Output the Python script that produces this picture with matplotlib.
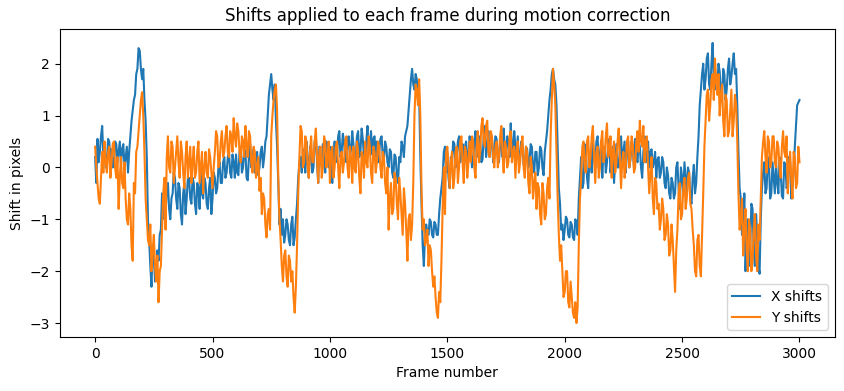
import numpy as np
import matplotlib
matplotlib.use("Agg")
import matplotlib.pyplot as plt

#-frame numbers: read every 10 frames (0..3000) plus in-between reads (5..2995)
frames = np.arange(0, 3001, 5)

#-shifts at frames 0,10,...,3000 (one row per 100 frames)
x_shifts = [
    0.2, 0.55, 0.3, 0.8, 0.45, 0.1, 0.5, 0.35, 0.05, 0.45,
    0.3, 0.05, 0.45, 0.2, -0.1, 0.6, 1.1, 1.4, 1.9, 2.25,
    1.7, 1.3, 0.2, -1.4, -2.3, -1.7, -2.1, -1.8, -1.2, -0.6,
    -0.9, -0.3, -1.0, -0.5, -0.2, -0.8, -0.4, -1.1, -0.3, -0.6,
    -0.2, -0.7, -0.3, -0.9, -0.4, -0.1, -0.6, -0.3, -0.8, -0.2,
    -0.6, -0.2, -0.4, 0.1, -0.3, 0.2, -0.1, 0.3, -0.2, 0.1,
    0.25, -0.15, 0.4, 0.0, 0.3, -0.25, 0.45, 0.1, -0.1, 0.3,
    0.0, 0.4, 0.2, 0.6, 1.4, 1.8, 1.3, 0.9, -0.3, -0.8,
    -1.0, -1.3, -1.1, -1.5, -0.95, -1.35, -0.7, 0.1, -0.1, 0.2,
    0.5, -0.2, 0.3, 0.0, 0.6, -0.3, 0.2, 0.45, -0.1, 0.3,
    0.4, -0.3, 0.5, 0.2, 0.7, 0.3, 0.5, 0.1, 0.6, 0.35,
    0.45, 0.2, 0.7, 0.3, 0.55, 0.1, 0.8, 0.4, 0.25, 0.6,
    0.5, 0.3, 0.6, 0.15, 0.4, 0.0, 0.3, -0.2, 0.2, -0.3,
    0.1, 0.4, 0.6, 0.8, 1.4, 1.9, 1.5, 1.7, 1.4, -0.7,
    -1.9, -1.1, -1.3, -1.05, -1.35, -1.1, -1.3, -0.6, -0.2, 0.4,
    0.3, -0.4, 0.1, 0.45, 0.2, 0.6, 0.3, 0.05, 0.5, 0.25,
    0.4, 0.1, 0.7, 0.35, 0.5, 0.15, 0.8, 0.4, 0.2, 0.6,
    0.3, 0.55, 0.1, 0.45, 0.75, 0.2, 0.5, 0.85, 0.3, 0.4,
    0.6, 0.2, 0.45, 0.0, 0.35, 0.1, 0.4, -0.1, 0.3, 0.0,
    0.35, -0.15, 0.5, 1.0, 1.5, 1.9, 1.6, 0.4, -0.7, -1.1,
    -1.2, -1.0, -1.35, -1.1, -1.4, -1.05, -0.6, 0.2, -0.3, 0.4,
    -0.4, 0.3, 0.5, 0.0, 0.6, 0.2, -0.2, 0.4, 0.1, 0.55,
    0.2, -0.3, 0.45, 0.0, 0.6, 0.3, -0.1, 0.5, 0.15, 0.35,
    0.55, 0.1, 0.4, -0.2, 0.6, 0.25, 0.0, 0.35, 0.1, -0.2,
    0.2, -0.1, 0.1, -0.4, -0.15, -0.6, -0.3, -0.5, 0.1, -0.8,
    -0.2, 0.1, -0.5, -0.1, -0.7, 0.05, -0.3, 0.6, 1.5, 2.0,
    1.7, 2.2, 1.5, 2.4, 1.9, 1.6, 1.85, 1.35, 1.8, 1.5,
    2.1, 1.75, 2.2, 1.9, 0.3, -0.6, -1.2, -2.0, -1.0, -1.6,
    -0.8, -1.9, -1.3, -2.05, -0.4, 0.1, -0.4, 0.05, -0.5, -0.2,
    0.1, -0.5, -0.1, -0.6, 0.05, -0.3, 0.1, -0.4, 0.4, 1.2,
    1.3,
]

#-in-between reads at frames 5,15,...,2995
x_mid = [
    -0.3, 0.1, 0.6, 0.2, 0.0, 0.55, 0.15, 0.0, 0.5, 0.1,
    0.5, 0.35, 0.0, 0.4, 0.3, 0.9, 1.3, 1.8, 2.3, 1.9,
    1.9, 0.9, -1.0, -1.9, -1.5, -2.2, -1.6, -1.3, -0.5, -1.0,
    -0.4, -0.8, -0.6, -0.1, -0.6, -0.3, -0.9, -0.5, -0.9, -0.2,
    -0.6, -0.2, -0.7, -0.3, -0.8, -0.5, -0.2, -0.7, -0.4, -0.9,
    -0.1, -0.5, 0.0, -0.3, 0.1, -0.2, 0.2, -0.1, 0.25, -0.2,
    -0.1, 0.3, -0.1, 0.35, -0.2, 0.2, 0.0, 0.35, 0.25, -0.15,
    0.3, 0.0, 0.5, 1.0, 1.6, 1.5, 1.6, 0.4, -1.1, -1.3,
    -1.45, -1.0, -1.4, -1.1, -1.5, -1.0, -0.2, 0.2, 0.35, -0.1,
    0.1, 0.4, -0.1, 0.5, 0.1, 0.4, 0.0, 0.2, 0.5, 0.0,
    0.0, 0.2, 0.1, 0.6, 0.2, 0.65, 0.2, 0.55, 0.2, 0.7,
    0.1, 0.6, 0.2, 0.75, 0.2, 0.5, 0.3, 0.7, 0.55, 0.2,
    0.1, 0.55, 0.2, 0.5, 0.1, 0.35, -0.1, 0.25, -0.15, 0.2,
    0.5, 0.2, 0.7, 1.1, 1.7, 1.6, 1.8, 1.3, 0.2, -1.5,
    -1.3, -1.25, -1.0, -1.3, -1.05, -1.3, -0.9, -0.4, 0.3, -0.1,
    -0.2, 0.2, 0.5, 0.0, 0.5, 0.1, 0.45, 0.4, 0.0, 0.6,
    0.0, 0.5, 0.2, 0.6, 0.1, 0.6, 0.2, 0.7, 0.5, 0.1,
    0.6, 0.2, 0.5, 0.2, 0.35, 0.6, 0.2, 0.4, 0.7, 0.2,
    0.1, 0.5, 0.05, 0.4, 0.0, 0.45, 0.0, 0.3, -0.15, 0.4,
    0.0, 0.3, 0.7, 1.3, 1.8, 1.7, 1.2, -0.4, -1.2, -1.4,
    -0.95, -1.3, -1.05, -1.35, -1.0, -1.3, -0.2, -0.4, 0.45, -0.2,
    0.1, -0.1, 0.2, 0.5, 0.0, 0.5, 0.3, -0.1, 0.45, -0.1,
    0.4, 0.1, 0.0, 0.35, 0.1, 0.5, 0.3, 0.0, 0.5, 0.0,
    0.2, 0.5, 0.0, 0.3, 0.1, 0.5, 0.3, 0.0, 0.3, 0.15,
    -0.2, 0.2, -0.3, 0.0, -0.5, -0.2, -0.6, 0.0, -0.4, 0.0,
    -0.5, -0.2, 0.0, -0.6, -0.2, -0.5, 0.2, 1.2, 1.8, 1.5,
    2.1, 1.6, 2.0, 1.7, 1.5, 2.0, 1.4, 1.9, 1.3, 1.9,
    1.6, 2.0, 1.8, 1.2, -0.4, -1.3, -0.5, -1.4, -1.9, -0.7,
    -1.6, -0.9, -1.9, -1.0, -0.1, -0.5, 0.2, -0.6, 0.1, -0.5,
    -0.3, 0.2, -0.55, 0.1, -0.4, 0.2, -0.6, -0.1, 0.8, 1.25,
]

y_shifts = [
    0.4, -0.3, -0.7, 0.3, 0.5, -0.1, 0.4, 0.1, 0.5, -0.2,
    -0.8, 0.2, -0.4, -0.6, -1.1, -0.8, -1.8, -0.5, 0.4, 1.0,
    1.45, 0.3, -1.0, -1.5, -2.0, -1.3, -2.2, -2.6, -1.9, -0.5,
    -1.2, 0.6, -0.1, 0.4, 0.0, 0.6, -0.2, 0.3, -0.4, 0.5,
    0.1, -0.3, 0.4, -0.1, 0.5, 0.0, -0.5, 0.3, -0.2, 0.2,
    -0.4, 0.3, 0.6, 0.1, 0.7, 0.3, 0.8, 0.2, 0.6, 0.95,
    0.4, 0.7, 0.1, 0.5, 0.8, 0.2, 0.6, -0.1, 0.3, 0.0,
    -0.45, -0.9, -0.6, -1.35, -0.8, 0.6, 1.3, 1.6, -0.2, -1.4,
    -2.2, -1.6, -2.3, -1.8, -2.0, -2.8, -1.5, 0.2, 0.7, 0.1,
    0.5, -0.2, 0.6, 0.1, 0.75, -0.3, 0.4, 0.0, 0.5, 0.2,
    -0.3, 0.4, 0.0, 0.5, -0.4, 0.3, 0.1, 0.6, -0.2, 0.2,
    0.4, -0.1, 0.3, -0.5, 0.2, 0.5, 0.0, 0.4, -0.3, 0.3,
    0.1, 0.4, -0.2, 0.2, -0.5, -1.2, -0.3, -0.8, -0.2, -1.0,
    -0.5, -1.3, -0.7, -1.8, -0.9, -1.1, 1.0, 1.5, 1.7, -0.4,
    -1.0, -1.4, -1.9, -1.6, -2.3, -2.5, -2.9, -2.6, -0.8, -0.9,
    0.4, -0.4, 0.3, -0.2, 0.4, 0.0, 0.6, -0.3, 0.3, 0.1,
    0.1, 0.5, -0.2, 0.7, 0.3, 0.95, 0.4, 0.9, 0.2, 0.6,
    0.0, 0.5, 0.2, 0.8, -0.1, 0.4, 0.1, 0.7, 0.3, -0.2,
    0.5, 0.1, 0.6, -0.2, 0.3, -0.5, 0.0, -0.3, -0.8, -0.4,
    -1.1, -0.5, -0.9, -0.2, 0.6, 1.9, 1.2, -0.6, -1.8, -2.0,
    -2.4, -2.0, -2.7, -2.5, -2.9, -3.0, -1.5, -0.2, 0.5, -0.1,
    0.6, 0.2, 0.8, -0.3, 0.4, 0.0, 0.7, 0.2, 0.85, 0.3,
    -0.2, 0.5, 0.1, 0.75, -0.4, 0.3, 0.0, 0.6, 0.2, 0.45,
    0.0, 0.7, 0.9, 0.4, 0.1, 0.6, -0.5, 0.2, -0.9, -0.3,
    -0.7, -1.0, -0.8, -1.3, -1.1, -1.6, -1.4, -2.4, -1.2, -0.3,
    -0.9, -0.2, -0.6, -0.1, -0.8, -1.5, -2.1, -1.3, -2.1, -0.5,
    0.9, 1.5, 1.2, 1.8, 2.1, 1.4, 1.0, 1.6, 0.6, 1.3,
    0.7, 1.5, 0.9, 1.2, -0.5, -1.0, -1.7, -0.8, -2.0, -1.2,
    -1.8, -0.9, -2.0, -1.4, 0.2, 0.7, -0.1, 0.5, 0.1, 0.6,
    0.0, 0.4, -0.2, 0.7, 0.2, -0.5, 0.3, -0.6, 0.2, -0.3,
    0.1,
]

y_mid = [
    0.0, -0.6, -0.2, -0.1, 0.1, 0.3, -0.2, 0.45, 0.0, 0.2,
    -0.2, -0.3, 0.1, -1.0, -0.5, -1.5, -0.3, 0.3, 0.7, 1.3,
    1.0, -0.6, -1.4, -1.1, -1.6, -1.9, -1.7, -2.0, -1.2, -0.2,
    0.2, 0.0, 0.5, -0.3, 0.3, 0.1, 0.5, -0.1, 0.2, -0.2,
    0.4, 0.1, -0.2, 0.3, -0.3, 0.3, 0.0, -0.1, 0.35, -0.1,
    0.0, 0.7, 0.0, 0.5, 0.2, 0.6, 0.3, 0.7, 0.3, 0.6,
    0.85, 0.3, 0.6, 0.2, 0.4, 0.7, 0.1, 0.4, -0.2, 0.2,
    -0.2, -0.5, -1.1, -0.9, -1.2, 1.0, 1.5, 1.1, -1.0, -1.9,
    -1.7, -2.1, -1.7, -2.2, -2.5, -2.3, -0.5, 0.8, 0.0, 0.6,
    0.0, 0.3, 0.1, 0.5, 0.2, 0.3, -0.2, 0.6, 0.0, 0.5,
    0.3, -0.2, 0.4, 0.0, 0.2, -0.1, 0.5, 0.0, 0.4, -0.3,
    0.0, 0.5, -0.2, 0.3, -0.2, 0.1, 0.6, -0.1, 0.4, -0.1,
    0.5, 0.0, 0.3, -0.3, 0.0, -0.6, -0.9, -0.1, -0.7, -0.2,
    -0.9, -0.4, -1.2, -1.0, -1.4, -0.3, 1.6, 1.2, 1.0, -1.2,
    -1.5, -1.2, -1.5, -2.0, -2.1, -2.8, -2.4, -1.8, 0.0, 0.3,
    0.0, 0.1, -0.4, 0.3, -0.3, 0.5, 0.1, 0.4, -0.2, 0.5,
    0.6, 0.0, 0.4, 0.1, 0.8, 0.5, 0.8, 0.3, 0.7, 0.2,
    0.4, 0.0, 0.6, 0.3, 0.5, 0.0, 0.6, 0.1, 0.4, 0.3,
    -0.1, 0.4, 0.0, 0.4, -0.3, 0.2, -0.6, -0.1, -0.3, -0.9,
    -0.3, -1.0, -0.4, -0.6, 1.3, 1.6, 0.3, -1.3, -1.5, -2.5,
    -2.0, -2.6, -2.2, -2.8, -2.6, -2.7, -0.6, 0.4, 0.0, 0.5,
    0.0, 0.6, 0.2, 0.3, -0.2, 0.5, 0.1, 0.6, 0.2, 0.6,
    0.3, -0.1, 0.5, 0.2, 0.1, -0.2, 0.5, 0.0, 0.6, -0.1,
    0.5, 0.3, 0.5, 0.8, 0.5, 0.0, -0.1, -0.6, -0.2, -0.8,
    -1.2, -0.6, -1.4, -0.9, -1.7, -1.1, -1.9, -1.6, -0.5, -1.0,
    -0.4, -0.8, -0.2, -0.7, -1.2, -2.0, -1.4, -1.9, -1.3, 0.4,
    1.4, 0.9, 1.7, 1.3, 1.7, 1.8, 1.4, 0.9, 1.4, 0.6,
    1.1, 0.6, 1.4, 0.5, -1.2, -0.6, -1.2, -1.6, -1.0, -2.0,
    -1.2, -1.7, -1.1, -0.6, 0.5, 0.2, 0.6, 0.0, 0.6, 0.1,
    0.5, 0.0, 0.4, 0.3, 0.6, 0.0, -0.2, 0.3, -0.4, 0.4,
]

#-merge the two sets of reads in frame order
x_all = np.empty(len(frames))
x_all[0::2] = x_shifts
x_all[1::2] = x_mid
y_all = np.empty(len(frames))
y_all[0::2] = y_shifts
y_all[1::2] = y_mid

fig = plt.figure(figsize=(8.44, 3.91), dpi=100)
ax = fig.add_axes([0.071, 0.138, 0.918, 0.788])

ax.plot(frames, x_all, label="X shifts")
ax.plot(frames, y_all, label="Y shifts")

ax.set_title("Shifts applied to each frame during motion correction")
ax.set_xlabel("Frame number")
ax.set_ylabel("Shift in pixels")
ax.legend(loc="lower right")

fig.savefig("out.png", dpi=100)
